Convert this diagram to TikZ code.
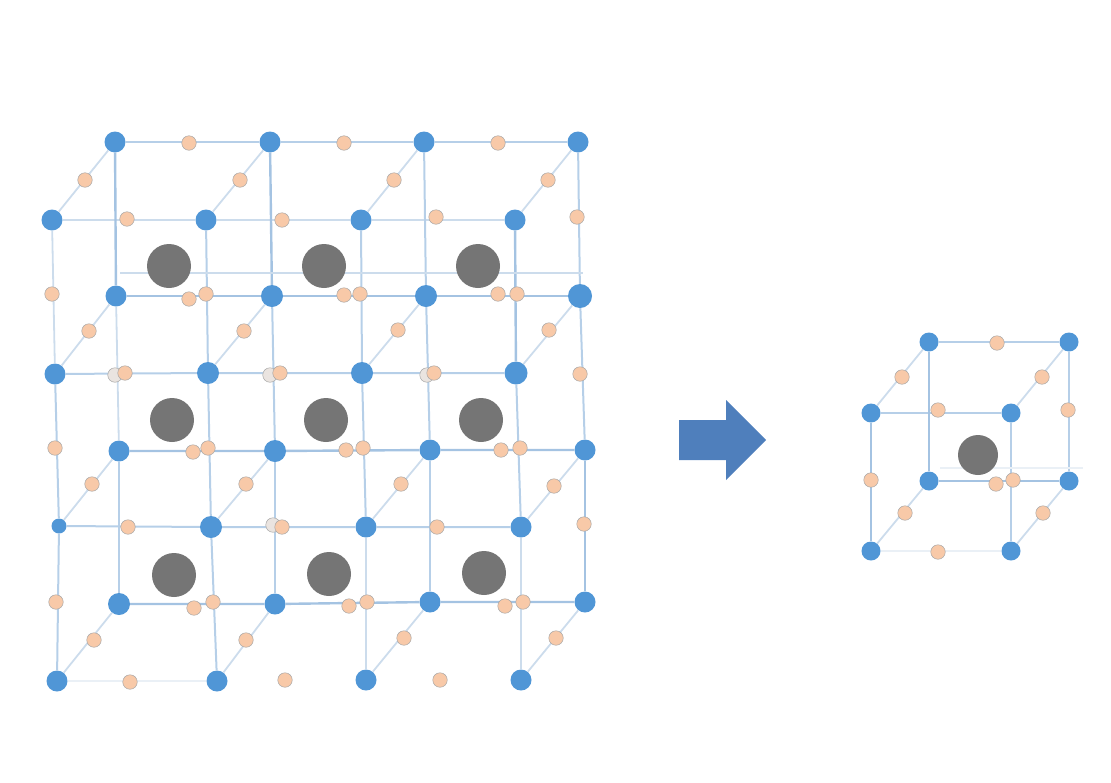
\documentclass[tikz,border=0pt]{standalone}
\usepackage{tikz}
\definecolor{atomblue}{HTML}{5096D6}
\definecolor{atomorange}{HTML}{F8C9A8}
\definecolor{atomgray}{HTML}{757575}
\definecolor{arrowblue}{HTML}{4F7FBC}
\definecolor{bondstrong}{HTML}{A4C3E2}
\definecolor{bondmid}{HTML}{B6CFE8}
\definecolor{bondthin}{HTML}{CCDCEC}
\definecolor{bondhair}{HTML}{EAF0F6}
\tikzset{
	blueatom/.style={circle,fill=atomblue,inner sep=0pt,minimum size=21pt},
	orangeatom/.style={circle,fill=atomorange,draw=black!35,line width=0.5pt,inner sep=0pt,minimum size=14.5pt},
	backatom/.style={orangeatom,fill=atomorange!60!black!20},
	grayatom/.style={circle,fill=atomgray,inner sep=0pt,minimum size=44pt},
	bond/.style={draw=bondmid,line width=2pt},
	strongbond/.style={draw=bondstrong,line width=2.4pt},
	thinbond/.style={draw=bondthin,line width=1.8pt},
	hairbond/.style={draw=bondhair,line width=1.4pt}
}
\begin{document}
\begin{tikzpicture}[x=1pt,y=-1pt]
		\useasboundingbox (0,0) rectangle (1111,782);
		
		% Blue atoms
		\node[blueatom] (a1) at (115,142) {};
		\node[blueatom] (a2) at (270,142) {};
		\node[blueatom] (a3) at (424,142) {};
		\node[blueatom] (a4) at (578,142) {};
		\node[blueatom] (b1) at (52,220) {};
		\node[blueatom] (b2) at (206,220) {};
		\node[blueatom] (b3) at (361,220) {};
		\node[blueatom] (b4) at (515,220) {};
		\node[blueatom] (c1) at (116,296) {};
		\node[blueatom,minimum size=22pt] (c2) at (272,296) {};
		\node[blueatom,minimum size=22pt] (c3) at (426,296) {};
		\node[blueatom,minimum size=24pt] (c4) at (580,296) {};
		\node[blueatom] (d1) at (55,374) {};
		\node[blueatom,minimum size=22pt] (d2) at (208,373) {};
		\node[blueatom,minimum size=22pt] (d3) at (362,373) {};
		\node[blueatom,minimum size=23pt] (d4) at (516,373) {};
		\node[blueatom] (e1) at (119,451) {};
		\node[blueatom,minimum size=22pt] (e2) at (275,451) {};
		\node[blueatom] (e3) at (430,450) {};
		\node[blueatom] (e4) at (585,450) {};
		\node[blueatom,minimum size=15pt] (f1) at (59,526) {};
		\node[blueatom,minimum size=22pt] (f2) at (211,527) {};
		\node[blueatom] (f3) at (366,527) {};
		\node[blueatom] (f4) at (521,527) {};
		\node[blueatom,minimum size=22pt] (g1) at (119,604) {};
		\node[blueatom] (g2) at (275,604) {};
		\node[blueatom] (g3) at (430,602) {};
		\node[blueatom] (g4) at (585,602) {};
		\node[blueatom] (h1) at (57,681) {};
		\node[blueatom] (h2) at (217,681) {};
		\node[blueatom] (h3) at (366,680) {};
		\node[blueatom] (h4) at (521,680) {};
		
		% Horizontal bonds
		\draw[bond] (a1) -- (a2) -- (a3) -- (a4);
		\draw[thinbond] (b1) -- (b2) -- (b3) -- (b4);
		\draw[strongbond] (c1) -- (c2) -- (c3) -- (c4);
		\draw[bond] (d1) -- (d2) -- (d3) -- (d4);
		\draw[strongbond] (e1) -- (e2) -- (e3) -- (e4);
		\draw[bond] (f1) -- (f2) -- (f3) -- (f4);
		\draw[strongbond] (g1) -- (g2) -- (g3) -- (g4);
		\draw[hairbond] (h1) -- (h2);
		
		% Vertical bonds
		\draw[strongbond] (a1) -- (c1);
		\draw[strongbond] (a2) -- (c2);
		\draw[bond] (a3) -- (c3);
		\draw[bond] (a4) -- (c4);
		\draw[thinbond] (c1) -- (e1);
		\draw[bond] (c2) -- (e2);
		\draw[bond] (c3) -- (e3);
		\draw[bond] (c4) -- (e4);
		\draw[bond] (e1) -- (g1);
		\draw[bond] (e2) -- (g2);
		\draw[bond] (e3) -- (g3);
		\draw[strongbond] (e4) -- (g4);
		\draw[thinbond] (b1) -- (d1);
		\draw[bond] (b2) -- (d2);
		\draw[bond] (b3) -- (d3);
		\draw[strongbond] (b4) -- (d4);
		\draw[bond] (d1) -- (f1);
		\draw[bond] (d2) -- (f2);
		\draw[bond] (d3) -- (f3);
		\draw[bond] (d4) -- (f4);
		\draw[bond] (f1) -- (h1);
		\draw[bond] (f2) -- (h2);
		\draw[thinbond] (f3) -- (h3);
		\draw[thinbond] (f4) -- (h4);
		
		% Depth bonds
		\draw[thinbond] (a1) -- (b1);
		\draw[thinbond] (a2) -- (b2);
		\draw[thinbond] (a3) -- (b3);
		\draw[thinbond] (a4) -- (b4);
		\draw[thinbond] (c1) -- (d1);
		\draw[thinbond] (c2) -- (d2);
		\draw[thinbond] (c3) -- (d3);
		\draw[thinbond] (c4) -- (d4);
		\draw[thinbond] (e1) -- (f1);
		\draw[thinbond] (e2) -- (f2);
		\draw[thinbond] (e3) -- (f3);
		\draw[thinbond] (e4) -- (f4);
		\draw[thinbond] (g1) -- (h1);
		\draw[thinbond] (g2) -- (h2);
		\draw[thinbond] (g3) -- (h3);
		\draw[thinbond] (g4) -- (h4);
		
		% Faint line behind the gray atoms
		\coordinate (lineL) at (120,273);
		\coordinate (lineR) at (583,273);
		\draw[thinbond,line width=1.3pt] (lineL) -- (lineR);
		
		% Gray atoms
		\node[grayatom] (m1) at (169,266) {};
		\node[grayatom] (m2) at (324,266) {};
		\node[grayatom] (m3) at (478,266) {};
		\node[grayatom] (m4) at (172,420) {};
		\node[grayatom] (m5) at (326,420) {};
		\node[grayatom] (m6) at (481,420) {};
		\node[grayatom] (m7) at (174,575) {};
		\node[grayatom] (m8) at (329,574) {};
		\node[grayatom] (m9) at (484,573) {};
		
		% Orange atoms, top layer
		\node[orangeatom] (o1) at (189,143) {};
		\node[orangeatom] (o2) at (344,143) {};
		\node[orangeatom] (o3) at (498,143) {};
		\node[orangeatom] (o4) at (85,180) {};
		\node[orangeatom] (o5) at (240,180) {};
		\node[orangeatom] (o6) at (394,180) {};
		\node[orangeatom] (o7) at (548,180) {};
		\node[orangeatom] (o8) at (127,219) {};
		\node[orangeatom] (o9) at (282,220) {};
		\node[orangeatom] (o10) at (436,217) {};
		\node[orangeatom] (o11) at (577,217) {};
		\node[orangeatom] (o12) at (52,294) {};
		\node[orangeatom] (o13) at (206,294) {};
		\node[orangeatom] (o14) at (360,294) {};
		\node[orangeatom] (o15) at (517,294) {};
		\node[orangeatom] (o16) at (189,299) {};
		\node[orangeatom] (o17) at (344,295) {};
		\node[orangeatom] (o18) at (498,294) {};
		
		% Orange atoms, second layer
		\node[orangeatom] (p1) at (89,331) {};
		\node[orangeatom] (p2) at (244,331) {};
		\node[orangeatom] (p3) at (398,330) {};
		\node[orangeatom] (p4) at (549,330) {};
		\node[backatom] (p5) at (115,375) {};
		\node[orangeatom] (p6) at (125,373) {};
		\node[backatom] (p7) at (270,375) {};
		\node[orangeatom] (p8) at (280,373) {};
		\node[backatom] (p9) at (427,375) {};
		\node[orangeatom] (p10) at (434,373) {};
		\node[orangeatom] (p11) at (580,374) {};
		\node[orangeatom] (p12) at (55,448) {};
		\node[orangeatom] (p13) at (208,448) {};
		\node[orangeatom] (p14) at (363,448) {};
		\node[orangeatom] (p15) at (520,448) {};
		\node[orangeatom] (p16) at (193,452) {};
		\node[orangeatom] (p17) at (346,450) {};
		\node[orangeatom] (p18) at (501,450) {};
		
		% Orange atoms, third layer
		\node[orangeatom] (q1) at (92,484) {};
		\node[orangeatom] (q2) at (246,484) {};
		\node[orangeatom] (q3) at (401,484) {};
		\node[orangeatom] (q4) at (554,486) {};
		\node[orangeatom] (q5) at (128,527) {};
		\node[backatom] (q6) at (273,525) {};
		\node[orangeatom] (q7) at (282,527) {};
		\node[orangeatom] (q8) at (437,527) {};
		\node[orangeatom] (q9) at (584,524) {};
		\node[orangeatom] (q10) at (56,602) {};
		\node[orangeatom] (q11) at (213,602) {};
		\node[orangeatom] (q12) at (367,602) {};
		\node[orangeatom] (q13) at (523,602) {};
		\node[orangeatom] (q14) at (194,608) {};
		\node[orangeatom] (q15) at (349,606) {};
		\node[orangeatom] (q16) at (505,606) {};
		
		% Orange atoms, bottom layer
		\node[orangeatom] (r1) at (94,640) {};
		\node[orangeatom] (r2) at (246,640) {};
		\node[orangeatom] (r3) at (404,638) {};
		\node[orangeatom] (r4) at (556,638) {};
		\node[orangeatom] (r5) at (130,682) {};
		\node[orangeatom] (r6) at (285,680) {};
		\node[orangeatom] (r7) at (440,680) {};
		
		% Arrow
		\fill[arrowblue] (679,420) -- (726,420) -- (726,400) -- (766,440) -- (726,480) -- (726,460) -- (679,460) -- cycle;
		
		% Small cell
		\node[blueatom,minimum size=19pt] (s1) at (929,342) {};
		\node[blueatom,minimum size=19pt] (s2) at (1069,342) {};
		\node[blueatom,minimum size=19pt] (s3) at (871,413) {};
		\node[blueatom,minimum size=19pt] (s4) at (1011,413) {};
		\node[blueatom,minimum size=19pt] (s5) at (929,481) {};
		\node[blueatom,minimum size=19pt] (s6) at (1069,481) {};
		\node[blueatom,minimum size=19pt] (s7) at (871,551) {};
		\node[blueatom,minimum size=19pt] (s8) at (1011,551) {};
		
		\draw[bond] (s1) -- (s2);
		\draw[bond] (s3) -- (s4);
		\draw[strongbond] (s5) -- (s6);
		\draw[hairbond] (s7) -- (s8);
		\draw[strongbond] (s1) -- (s5);
		\draw[bond] (s2) -- (s6);
		\draw[strongbond] (s3) -- (s7);
		\draw[bond] (s4) -- (s8);
		\draw[thinbond] (s1) -- (s3);
		\draw[thinbond] (s2) -- (s4);
		\draw[thinbond] (s5) -- (s7);
		\draw[thinbond] (s6) -- (s8);
		
		\coordinate (sideL) at (940,468);
		\coordinate (sideR) at (1083,468);
		\draw[hairbond] (sideL) -- (sideR);
		
		\node[grayatom,minimum size=40pt] (sm) at (978,455) {};
		
		\node[orangeatom] (t1) at (997,343) {};
		\node[orangeatom] (t2) at (902,377) {};
		\node[orangeatom] (t3) at (1042,377) {};
		\node[orangeatom] (t4) at (938,410) {};
		\node[orangeatom] (t5) at (1068,410) {};
		\node[orangeatom] (t6) at (871,480) {};
		\node[orangeatom] (t7) at (996,484) {};
		\node[orangeatom] (t8) at (1013,480) {};
		\node[orangeatom] (t9) at (905,513) {};
		\node[orangeatom] (t10) at (1043,513) {};
		\node[orangeatom] (t11) at (938,552) {};
		\end{tikzpicture}
\end{document}
